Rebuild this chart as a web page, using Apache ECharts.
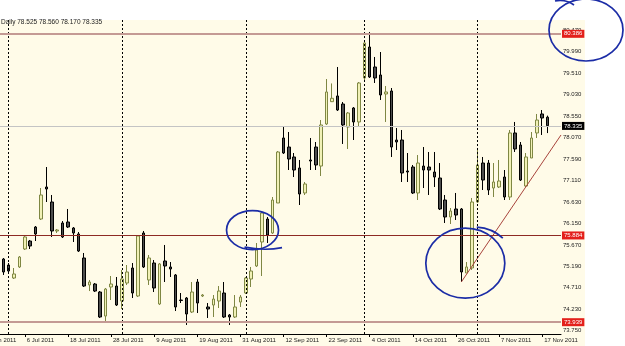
<!DOCTYPE html>
<html><head><meta charset="utf-8">
<script src="https://cdn.jsdelivr.net/npm/echarts@6/dist/echarts.min.js"></script>
<style>html,body{margin:0;padding:0;background:#fff;overflow:hidden}#c{width:646px;height:346px;margin-left:-21px}</style>
</head><body><div id="c"></div>
<script>
// ---- data ----
const dates = [
 '24 Jun 2011','27 Jun 2011','28 Jun 2011','29 Jun 2011','30 Jun 2011',
 '1 Jul 2011','4 Jul 2011','5 Jul 2011','6 Jul 2011','7 Jul 2011','8 Jul 2011','11 Jul 2011','12 Jul 2011','13 Jul 2011','14 Jul 2011','15 Jul 2011',
 '18 Jul 2011','19 Jul 2011','20 Jul 2011','21 Jul 2011','22 Jul 2011','25 Jul 2011','26 Jul 2011','27 Jul 2011','28 Jul 2011','29 Jul 2011',
 '1 Aug 2011','2 Aug 2011','3 Aug 2011','4 Aug 2011','5 Aug 2011','8 Aug 2011','9 Aug 2011','10 Aug 2011','11 Aug 2011','12 Aug 2011',
 '15 Aug 2011','16 Aug 2011','17 Aug 2011','18 Aug 2011','19 Aug 2011','22 Aug 2011','23 Aug 2011','24 Aug 2011','25 Aug 2011','26 Aug 2011',
 '29 Aug 2011','30 Aug 2011','31 Aug 2011',
 '1 Sep 2011','2 Sep 2011','5 Sep 2011','6 Sep 2011','7 Sep 2011','8 Sep 2011','9 Sep 2011','12 Sep 2011','13 Sep 2011','14 Sep 2011',
 '15 Sep 2011','16 Sep 2011','19 Sep 2011','20 Sep 2011','21 Sep 2011','22 Sep 2011','23 Sep 2011','26 Sep 2011','27 Sep 2011','28 Sep 2011',
 '29 Sep 2011','30 Sep 2011',
 '3 Oct 2011','4 Oct 2011','5 Oct 2011','6 Oct 2011','7 Oct 2011','10 Oct 2011','11 Oct 2011','12 Oct 2011','13 Oct 2011','14 Oct 2011',
 '17 Oct 2011','18 Oct 2011','19 Oct 2011','20 Oct 2011','21 Oct 2011','24 Oct 2011','25 Oct 2011','26 Oct 2011','27 Oct 2011','28 Oct 2011','31 Oct 2011',
 '1 Nov 2011','2 Nov 2011','3 Nov 2011','4 Nov 2011','7 Nov 2011','8 Nov 2011','9 Nov 2011','10 Nov 2011','11 Nov 2011',
 '14 Nov 2011','15 Nov 2011','16 Nov 2011','17 Nov 2011','18 Nov 2011','21 Nov 2011','22 Nov 2011'
];
const firstCandleDate = '30 Jun 2011';
// [open, close, low, high]
const candles = [
 [75.353,75.063,74.996,75.376],[75.219,75.085,75.040,75.264],[74.928,75.018,74.906,75.152],[75.175,75.398,75.152,75.420],
 [75.577,75.846,75.555,75.890],[75.756,75.644,75.577,75.779],[76.069,75.913,75.756,76.091],[76.248,76.785,76.226,76.941],
 [76.964,76.919,76.628,77.411],[76.628,75.980,75.846,76.785],[75.980,76.002,75.935,76.024],[76.159,75.846,75.823,76.203],
 [76.181,76.069,76.047,76.472],[76.047,75.935,75.734,76.069],[75.913,75.532,75.510,75.957],[75.376,74.749,74.727,75.488],
 [74.772,74.839,74.637,74.884],[74.794,74.637,74.615,74.816],[74.615,74.056,74.034,74.637],[74.078,74.682,73.944,74.705],
 [74.727,74.794,74.436,74.973],[74.749,74.324,74.302,74.951],
 [74.414,74.906,74.235,75.108],[74.816,75.063,74.772,75.219],[75.152,74.593,74.481,75.264],[74.526,75.868,74.503,75.890],
 [75.935,75.175,75.152,75.980],[74.884,75.376,74.772,75.443],[75.264,74.705,74.615,75.331],[74.347,75.242,74.324,75.264],
 [75.309,75.197,74.839,75.667],[75.175,75.130,74.951,75.286],[74.996,74.280,74.190,75.018],[74.436,74.425,74.369,74.593],
 [74.481,74.123,73.877,74.503],[74.168,74.615,74.145,74.839],[74.839,74.369,74.145,74.906],[74.526,74.548,74.503,74.570],
 [74.280,74.235,74.034,74.369],[74.324,74.458,74.056,74.548],[74.414,74.637,74.257,74.749],[74.593,74.056,74.034,74.839],
 [74.101,74.056,73.877,74.123],[74.056,74.280,74.034,74.548],[74.391,74.503,74.280,74.548],
 [74.593,74.928,74.570,74.951],[74.906,75.085,74.727,75.175],[75.197,75.555,75.175,75.711],[75.734,76.382,74.973,76.405],
 [76.248,75.890,75.711,76.293],[75.935,76.673,75.913,76.740],[76.606,77.747,76.606,77.769],[78.060,77.724,77.702,78.306],
 [77.858,77.590,77.344,78.194],[77.635,77.344,77.187,77.724],[77.389,76.807,76.561,77.568],[76.830,77.031,76.785,77.076],
 [77.568,77.545,77.344,78.060],[77.858,77.456,77.344,77.970],[77.433,78.351,77.210,78.462],[78.373,79.089,78.351,79.379],
 [78.872,78.948,78.865,79.280],[79.000,78.686,78.664,79.648],[78.820,78.351,77.926,78.865],[78.306,78.619,77.814,78.641],
 [78.731,78.418,78.015,78.753],[78.418,79.290,78.328,79.312],
 [79.402,80.185,79.357,80.229],[80.095,79.424,79.402,80.431],[79.648,79.402,79.290,79.872],[79.469,79.022,78.910,79.983],
 [79.044,79.089,78.418,79.223],[79.111,77.858,77.635,79.178],[78.015,77.970,77.791,78.283],[78.015,77.277,77.076,78.239],
 [77.322,77.299,77.076,77.724],[77.411,76.830,76.807,77.456],[76.830,77.500,76.673,77.679],[77.433,77.344,76.941,77.858],
 [77.411,77.344,76.785,77.747],[77.299,77.187,76.964,77.747],[77.165,76.472,76.449,77.500],[76.673,76.293,76.159,76.785],
 [76.293,76.427,76.136,76.494],[76.472,76.337,76.226,76.830],[76.472,75.063,74.839,76.494],[75.040,75.175,75.040,75.286],
 [75.152,76.628,75.108,76.718],
 [76.628,77.456,76.606,77.791],[77.500,77.120,76.897,77.635],[77.500,76.897,76.785,77.568],[76.941,77.076,76.740,77.500],
 [76.964,77.098,76.941,77.568],[77.187,76.740,76.673,77.344],[76.740,78.172,76.673,78.239],[78.172,77.814,77.747,78.418],
 [77.903,77.120,77.098,77.970],[76.986,77.635,76.964,77.724],[77.612,78.060,77.612,78.194],[78.172,78.462,78.060,78.597],
 [78.597,78.507,78.127,78.686],[78.525,78.335,78.170,78.560]
];
const yTicks = [73.75,74.23,74.71,75.19,75.67,76.15,76.63,77.11,77.59,78.07,78.55,79.03,79.51,79.99,80.47];
const yMin = 73.676, yMax = 80.699;
const monthStarts = ['1 Jul 2011','1 Aug 2011','1 Sep 2011','3 Oct 2011','1 Nov 2011'];
const resistance = 80.386, lastClose = 78.335, midLevel = 75.884, support = 73.939;
const trendStart = ['27 Oct 2011', 74.839];
const trendEndPrice = 78.127;
const headerText = 'Daily 78.525 78.560 78.170 78.335';

// ---- chart ----
const FONT = '"Liberation Sans", Arial, sans-serif';
const SHIFT = 21; // the canvas starts 21px left of the page (chart is scrolled, first labels cut)
const lead = dates.indexOf(firstCandleDate);
const seriesData = dates.map((d, k) => (k >= lead && k < lead + candles.length) ? candles[k - lead] : ['-','-','-','-']);
const labelEvery = (idx) => idx % 8 === 0;
const boxLabel = (val, bg) => ({
  show: true, position: 'end', distance: 1, formatter: () => val.toFixed(3),
  backgroundColor: bg, color: '#fff', fontSize: 6, fontFamily: FONT, padding: [1, 2, 1, 2], lineHeight: 6
});

const chart = echarts.init(document.getElementById('c'), null, {renderer: 'canvas'});
const N = dates.length;
chart.setOption({
  animation: false,
  backgroundColor: '#ffffff',
  title: {text: headerText, left: SHIFT + 1, top: 19, padding: 0,
    textStyle: {fontSize: 6.5, fontWeight: 'normal', color: '#222', fontFamily: FONT}},
  grid: {left: 0, right: 64, top: 20, bottom: 12, containLabel: false},
  xAxis: [{
    type: 'category', data: dates, boundaryGap: true,
    axisLine: {show: true, lineStyle: {color: '#000', width: 1}},
    axisTick: {show: true, alignWithLabel: true, interval: labelEvery, length: 3, lineStyle: {color: '#000'}},
    axisLabel: {interval: labelEvery, align: 'left', fontSize: 6, color: '#222', fontFamily: FONT, margin: 3, padding: [0,0,0,2]},
    splitLine: {show: false}
  }, {
    type: 'value', min: 0, max: N, show: false
  }],
  yAxis: {
    type: 'value', position: 'right', min: yMin, max: yMax,
    axisLine: {show: true, lineStyle: {color: '#000', width: 1}},
    axisTick: {show: true, customValues: yTicks, length: 3, lineStyle: {color: '#000'}},
    axisLabel: {customValues: yTicks, formatter: v => v.toFixed(3), fontSize: 6, color: '#222', fontFamily: FONT, margin: 2},
    splitLine: {show: false}
  },
  graphic: [{
    id: 'bg', type: 'rect', z: -100, silent: true,
    shape: {x: SHIFT, y: 20, width: 585, height: 326}, style: {fill: '#FFFBE8'}
  }],
  series: [{
    type: 'candlestick', xAxisIndex: 0, yAxisIndex: 0, data: seriesData, barWidth: 3,
    itemStyle: {color: '#F1F1B6', color0: '#4D4D4D', borderColor: '#7F8743', borderColor0: '#000000', borderWidth: 1},
    markLine: {
      silent: true, animation: false, symbol: ['none', 'none'],
      data: [
        ...monthStarts.map(d => ({xAxis: d, lineStyle: {type: [2, 2], color: '#000', width: 1}, label: {show: false}})),
        {yAxis: lastClose, lineStyle: {color: '#C4C4C4', width: 1, type: 'solid'}, label: boxLabel(lastClose, '#000000')},
        {yAxis: resistance, symbol: ['none', 'emptyRect'], symbolSize: 4,
          lineStyle: {color: '#C49A94', width: 2, type: 'solid'}, label: boxLabel(resistance, '#E3201B')},
        {yAxis: midLevel, lineStyle: {color: '#8E2A24', width: 1, type: 'solid'}, label: boxLabel(midLevel, '#E3201B')},
        {yAxis: support, symbol: ['none', 'emptyRect'], symbolSize: 4,
          lineStyle: {color: '#C49A94', width: 2, type: 'solid'}, label: boxLabel(support, '#E3201B')}
      ]
    }
  }, {
    type: 'line', xAxisIndex: 1, yAxisIndex: 0, symbol: 'none', silent: true,
    data: [[dates.indexOf(trendStart[0]) + 0.5, trendStart[1]], [N, trendEndPrice]],
    lineStyle: {color: '#A8443C', width: 1}
  }]
});

// hand-drawn blue annotations, anchored to data coordinates
const px = (cat, v) => chart.convertToPixel({xAxisIndex: 0, yAxisIndex: 0}, [cat, v]);
const rightEdge = chart.convertToPixel({xAxisIndex: 1, yAxisIndex: 0}, [N, resistance]);
const BLUE = {stroke: '#1B2CA6', lineWidth: 1.7, fill: 'none'};
const a1 = [rightEdge[0] + 25, rightEdge[1] - 4];
const p2 = px('5 Sep 2011', 76.0); const a2 = [p2[0] - 4, p2[1]];
const p3 = px('27 Oct 2011', 75.26); const a3 = [p3[0] + 4, p3[1]];
chart.setOption({
  graphic: [
    {id: 'c1', type: 'ellipse', z: 100, silent: true, shape: {cx: a1[0], cy: a1[1], rx: 37, ry: 31}, style: BLUE},
    {id: 'c1t', type: 'bezierCurve', z: 100, silent: true,
      shape: {x1: a1[0] - 31, y1: a1[1] - 29, x2: a1[0] - 12, y2: a1[1] - 25, cpx1: a1[0] - 20, cpy1: a1[1] - 31}, style: BLUE},
    {id: 'c2', type: 'ellipse', z: 100, silent: true, shape: {cx: a2[0], cy: a2[1], rx: 26, ry: 19.5}, style: BLUE},
    {id: 'c2t', type: 'bezierCurve', z: 100, silent: true,
      shape: {x1: a2[0] - 8, y1: a2[1] + 17, x2: a2[0] + 29.5, y2: a2[1] + 17.5, cpx1: a2[0] + 12, cpy1: a2[1] + 21}, style: BLUE},
    {id: 'c3', type: 'ellipse', z: 100, silent: true, shape: {cx: a3[0], cy: a3[1], rx: 39.5, ry: 35}, style: BLUE},
    {id: 'c3t', type: 'bezierCurve', z: 100, silent: true,
      shape: {x1: a3[0] + 11.5, y1: a3[1] - 36, x2: a3[0] + 37.5, y2: a3[1] - 25, cpx1: a3[0] + 27, cpy1: a3[1] - 35}, style: BLUE}
  ]
});
</script>
</body></html>
